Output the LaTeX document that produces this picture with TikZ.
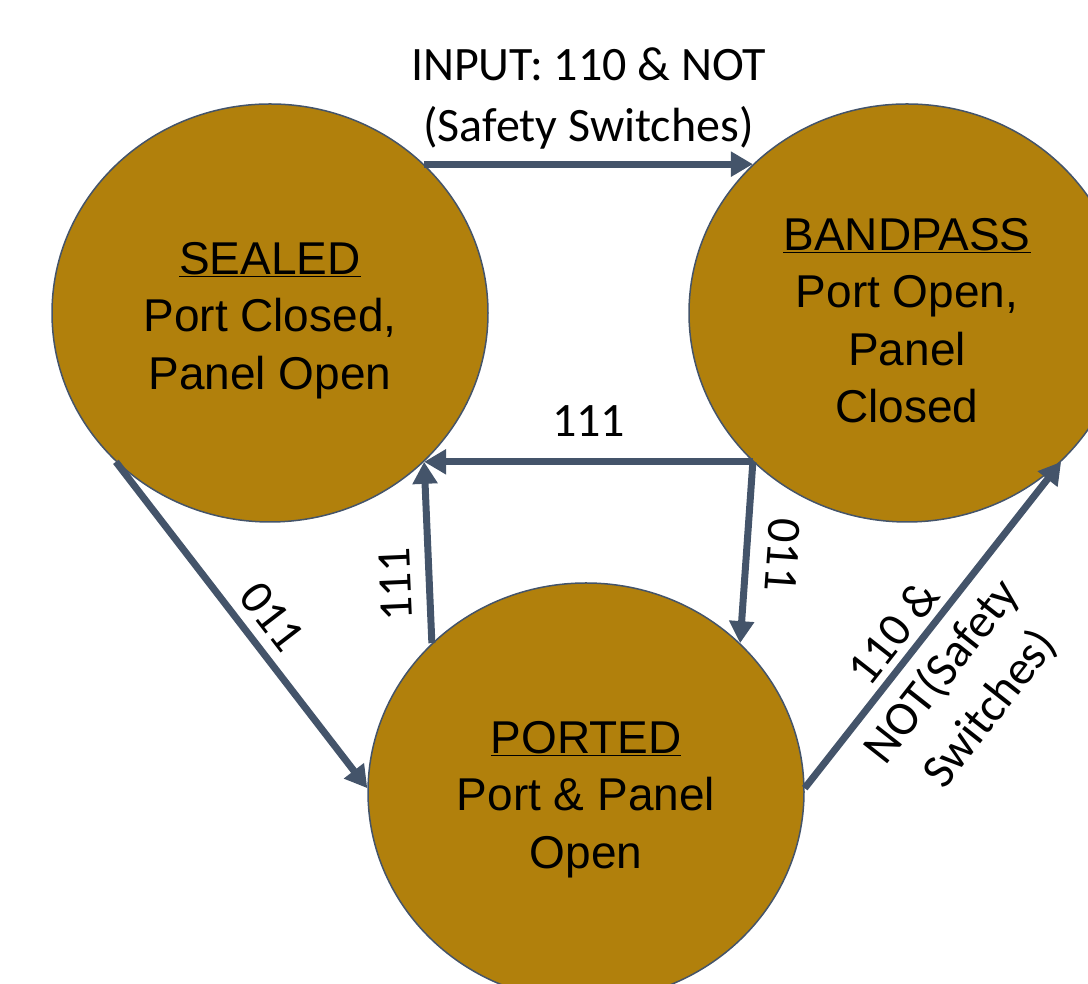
\documentclass[tikz,border=0pt]{standalone}
\usepackage{fontspec}
\setmainfont{Liberation Sans}
\newfontfamily\lblfont{Carlito}
\usetikzlibrary{arrows.meta, shapes.geometric}
\definecolor{stategold}{RGB}{177,128,12}
\definecolor{slate}{RGB}{68,84,106}
\newcommand{\statename}[1]{\rule{0pt}{47pt}\underline{#1}}

\begin{document}
\begin{tikzpicture}[
  x=1pt, y=1pt,
  state/.style={draw=slate, line width=1.5pt, fill=stategold, ellipse, minimum width=436pt, minimum height=418pt, inner sep=0pt, align=center, font=\fontsize{46}{57.5}\selectfont},
  trans/.style={draw=slate, line width=7pt, -{Triangle[length=22pt, width=24pt]}},
  lbl/.style={font=\lblfont\fontsize{48}{61}\selectfont, inner sep=0pt, align=center}
]
  \useasboundingbox (0,0) rectangle (1088,984);
  \node[state] (sealed) at (270,671) {\statename{SEALED}\\Port Closed,\\Panel Open};
  \node[state] (bandpass) at (907,671) {\statename{BANDPASS}\\Port Open,\\Panel\\Closed};
  \node[state] (ported) at (586,192) {\statename{PORTED}\\Port \& Panel\\Open};
  \draw[trans] (sealed.44) -- node[lbl, above=11pt] {INPUT: 110 \& NOT\\(Safety Switches)} (bandpass.136);
  \draw[trans] (bandpass.-136) -- node[lbl, above=22pt] {111} (sealed.-44);
  \draw[trans] (bandpass.-136) -- node[lbl, sloped, allow upside down, above=17pt] {011} (ported.44);
  \draw[trans] (ported.136) -- node[lbl, pos=0.33, sloped, allow upside down, above=15pt] {111} (sealed.-44);
  \draw[trans] (sealed.-136) -- node[lbl, pos=0.53, sloped, above=10pt] {011} (ported.179);
  \draw[trans] (ported.1) -- node[lbl, pos=0.426, sloped, yshift=-37pt] {110 \&\\NOT(Safety\\Switches)} (bandpass.-44);
\end{tikzpicture}
\end{document}
